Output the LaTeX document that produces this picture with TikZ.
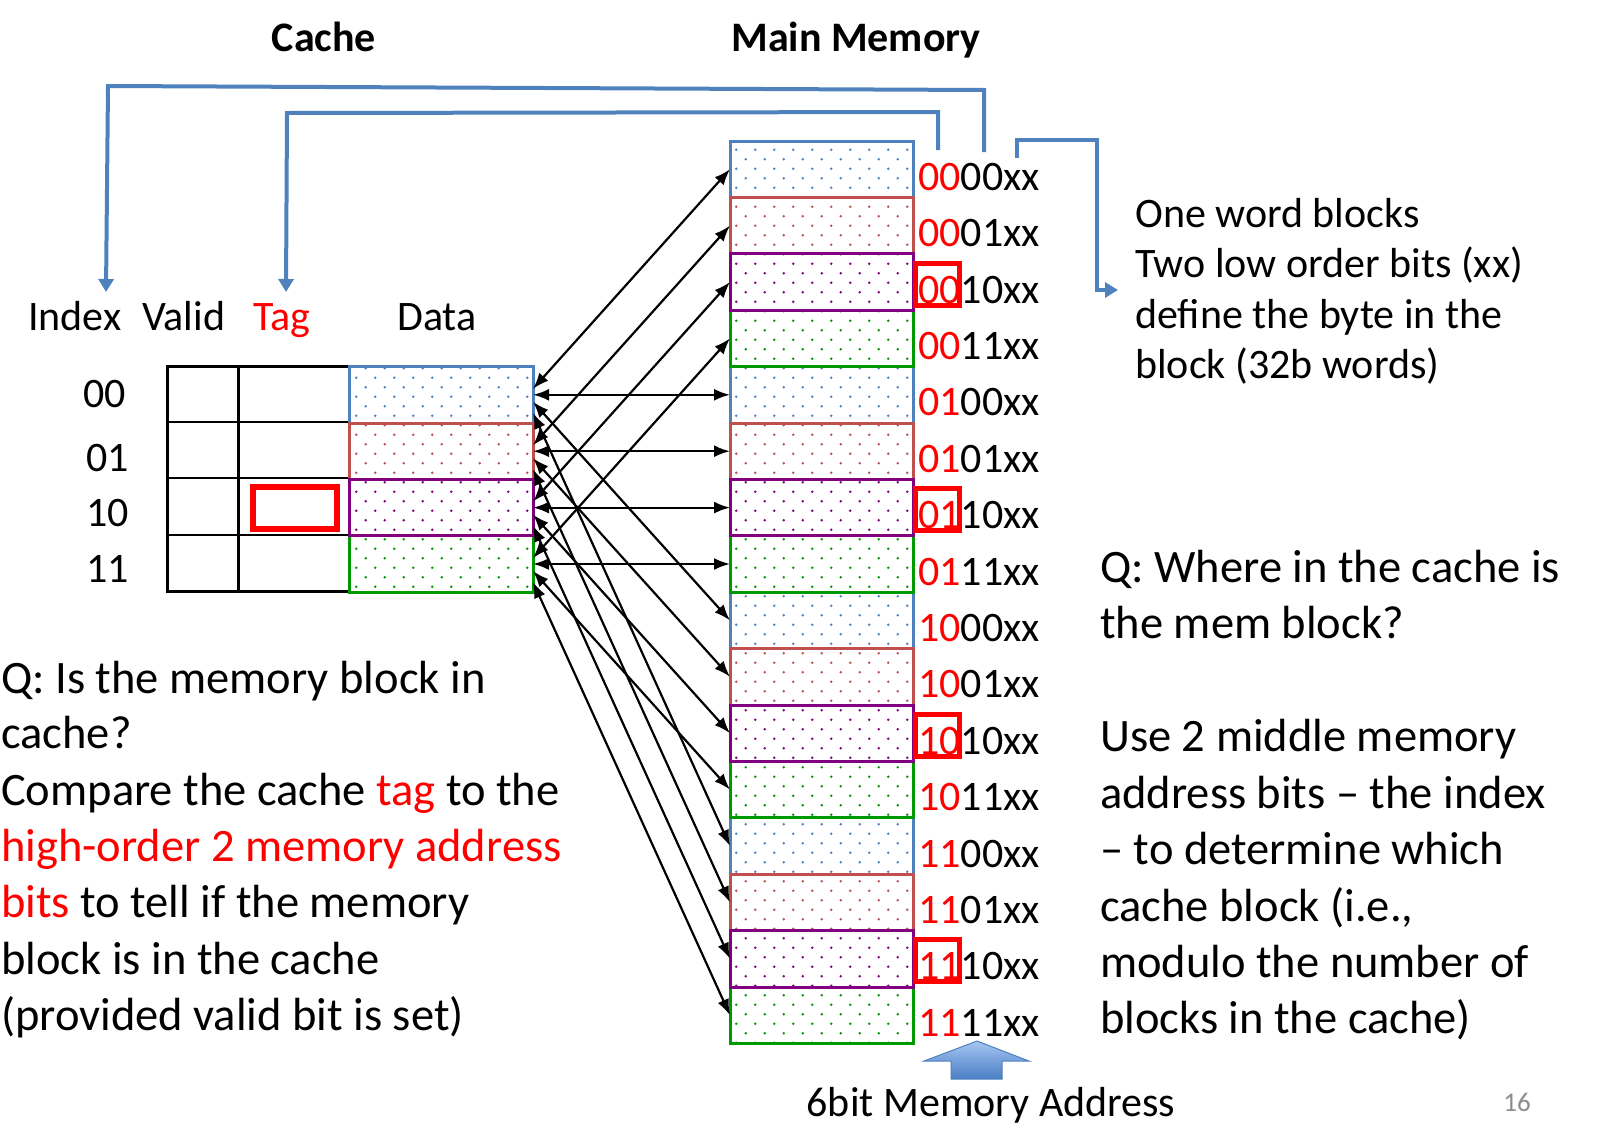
\documentclass[tikz,border=0pt]{standalone}
\usepackage{fontspec}
\setmainfont{Carlito}
\usetikzlibrary{arrows.meta,patterns}
\definecolor{cblue}{HTML}{4F81BD}
\definecolor{cred}{HTML}{C0504D}
\definecolor{cpurple}{HTML}{800080}
\definecolor{cgreen}{HTML}{009900}
\definecolor{arrtop}{HTML}{A6C6F2}
\definecolor{arrbot}{HTML}{4A7DC4}
\definecolor{pgnum}{HTML}{8C8C8C}
\pgfdeclarepatternformonly{sparsedots}{\pgfqpoint{-1pt}{-1pt}}{\pgfqpoint{20pt}{20pt}}{\pgfqpoint{19pt}{19pt}}{%
  \pgfpathcircle{\pgfqpoint{4.75pt}{4.75pt}}{1.3pt}%
  \pgfpathcircle{\pgfqpoint{14.25pt}{14.25pt}}{1.3pt}%
  \pgfusepath{fill}}
\newcommand\fpara{\fontsize{46.5pt}{56pt}\selectfont}
\newcommand\flab{\fontsize{42pt}{50pt}\selectfont}
\newcommand\fttl{\fontsize{42pt}{50pt}\selectfont\bfseries}
\begin{document}
\begin{tikzpicture}[x=1pt,y=-1pt,
  block/.style={minimum width=183pt,minimum height=56.4pt,inner sep=0pt,outer sep=0pt,line width=3pt,pattern=sparsedots},
  lab/.style={anchor=base west,inner sep=0pt,font=\flab},
  para/.style={anchor=base west,inner sep=0pt,font=\fpara},
  ttl/.style={anchor=base,inner sep=0pt,font=\fttl},
  redbox/.style={draw=red,line width=5pt,minimum width=44pt,minimum height=42pt,inner sep=0pt,outer sep=0pt},
  blueline/.style={draw=cblue,line width=4pt,line join=miter},
  btip/.style={-{Triangle[length=13pt,width=15pt]}},
  dbl/.style={{Latex[length=16pt,width=12pt]}-{Latex[length=16pt,width=12pt]},line width=2.2pt}]
\useasboundingbox (0,0) rectangle (1608,1133);

% titles
\node[ttl] (tcache) at (324,51) {Cache};
\node[ttl] (tmem) at (856,51) {Main Memory};

% headers
\node[lab] (hidx) at (28,330) {Index};
\node[lab] (hval) at (142,330) {Valid};
\node[lab,text=red] (htag) at (253,330) {Tag};
\node[lab] (hdat) at (397,330) {Data};

% cache row labels
\node[lab] (c0) at (83,407) {00};
\node[lab] (c1) at (86,471) {01};
\node[lab] (c2) at (86,526) {10};
\node[lab] (c3) at (86,582) {11};

% cache table (valid + tag columns)
\draw[line width=3pt] (167,366) rectangle (349,591);
\draw[line width=3pt] (238,366) -- (238,591);
\foreach \yy in {422,478,535} \draw[line width=2.5pt] (167,\yy) -- (349,\yy);
\node[redbox,line width=6pt,minimum width=84pt,minimum height=42pt] (tagbox) at (295,508) {};

% cache data blocks
\foreach \j/\c in {0/cblue,1/cred,3/cgreen,2/cpurple}
  \node[block,minimum width=184pt,draw=\c,pattern color=\c] (d\j) at (441,{141+56.4*(\j+4.5)}) {};

% memory blocks
\foreach \i/\c in {0/cblue,4/cblue,8/cblue,12/cblue,1/cred,5/cred,9/cred,13/cred,3/cgreen,7/cgreen,11/cgreen,15/cgreen,2/cpurple,6/cpurple,10/cpurple,14/cpurple}
  \node[block,draw=\c,pattern color=\c] (m\i) at (821.5,{141+56.4*(\i+0.5)}) {};

% memory address labels
\foreach \i/\hi/\lo in {0/00/00,1/00/01,2/00/10,3/00/11,4/01/00,5/01/01,6/01/10,7/01/11,8/10/00,9/10/01,10/10/10,11/10/11,12/11/00,13/11/01,14/11/10,15/11/11}
  \node[lab] (l\i) at (918,{141+56.4*(\i+0.5)+21}) {\textcolor{red}{\hi}\lo xx};

\foreach \i in {2,6,10,14}
  \node[redbox] (r\i) at (937,{141+56.4*(\i+0.5)+2}) {};

% cache <-> memory arrows
\foreach \j/\a/\b/\c in {0/4/8/12,1/5/9/13,2/6/10/14,3/7/11/15}{
  \draw[dbl] ([yshift=6pt]d\j.east) -- (m\j.west);
  \draw[dbl] (d\j.east) -- (m\a.west);
  \draw[dbl] ([yshift=-7pt]d\j.east) -- (m\b.west);
  \draw[dbl] ([yshift=-18pt]d\j.east) -- (m\c.west);
}

% blue elbow connectors
\coordinate (oS) at (984,152);
\coordinate (oE) at (106,292);
\coordinate (iS) at (938,150);
\coordinate (iE) at (286,292);
\coordinate (rS) at (1017,158);
\coordinate (rE) at (1118,290);
\draw[blueline,btip] (oS) -- (984,90) -- (108,86) -- (oE);
\draw[blueline,btip] (iS) -- (938,112) -- (287,113) -- (iE);
\draw[blueline,btip] (rS) -- (1017,140) -- (1097,140) -- (1097,290) -- (rE);

% right note
\node[lab] (n1) at (1135,227) {One word blocks};
\node[lab] (n2) at (1135,277) {Two low order bits (xx)};
\node[lab] (n3) at (1135,328) {define the byte in the};
\node[lab] (n4) at (1135,378) {block (32b words)};

% right question
\node[para] (q1) at (1100,582) {Q: Where in the cache is};
\node[para] (q2) at (1100,638) {the mem block?};

\node[para] (u1) at (1100,751) {Use 2 middle memory};
\node[para] (u2) at (1100,808) {address bits – the index};
\node[para] (u3) at (1100,864) {– to determine which};
\node[para] (u4) at (1100,921) {cache block (i.e.,};
\node[para] (u5) at (1100,977) {modulo the number of};
\node[para] (u6) at (1100,1033) {blocks in the cache)};

% left question
\node[para] (p1) at (1,693) {Q: Is the memory block in};
\node[para] (p2) at (1,748) {cache?};
\node[para] (p3) at (1,805) {Compare the cache \textcolor{red}{tag} to the};
\node[para,text=red] (p4) at (1,861) {high-order 2 memory address};
\node[para] (p5) at (1,917) {\textcolor{red}{bits} to tell if the memory};
\node[para] (p6) at (1,974) {block is in the cache};
\node[para] (p7) at (1,1030) {(provided valid bit is set)};

% fat up arrow and caption
\shade[top color=arrtop,bottom color=arrbot,draw=cblue,line width=1pt,line join=miter]
  (977,1041) -- (1029,1061) -- (1002,1061) -- (1002,1079) -- (951,1079) -- (951,1061) -- (924,1061) -- cycle;
\node[lab,anchor=base] (addr) at (991,1116) {6bit Memory Address};
\node[anchor=base,inner sep=0pt,font=\fontsize{27pt}{30pt}\selectfont,text=pgnum] (pg) at (1517,1111) {16};
\end{tikzpicture}
\end{document}
